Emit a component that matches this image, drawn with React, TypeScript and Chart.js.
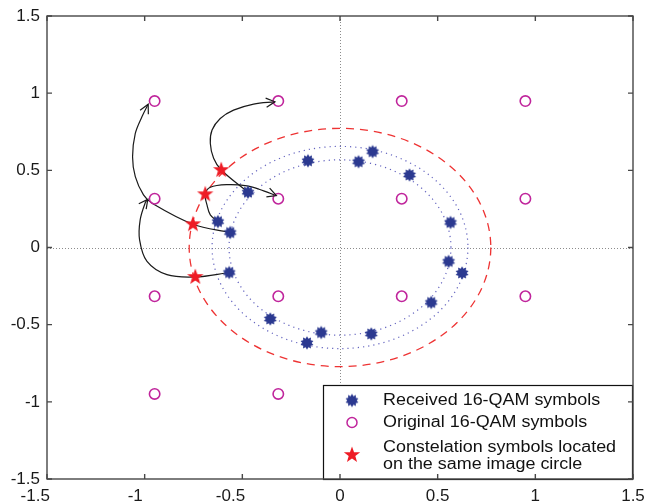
import React, { useEffect, useRef } from "react";
import { Chart, registerables } from "chart.js";

Chart.register(...registerables);

const FONT = '"Liberation Sans", Arial, Helvetica, sans-serif';

// Axis ticks
const xTickLabels = ["-1.5", "-1", "-0.5", "0", "0.5", "1", "1.5"];
const yTickLabels = ["-1.5", "-1", "-0.5", "0", "0.5", "1", "1.5"];

// Received 16-QAM symbols (after phase/amplitude distortion)
const receivedX = [-0.164, 0.095, 0.167, 0.356, 0.566, 0.556, 0.625, 0.467, 0.160, -0.096, -0.169, -0.357, -0.567, -0.562, -0.625, -0.471];
const receivedY = [0.562, 0.556, 0.621, 0.470, 0.162, -0.090, -0.165, -0.356, -0.560, -0.551, -0.618, -0.463, -0.162, 0.097, 0.168, 0.358];

// Original 16-QAM constellation
const originalX = [-0.949, -0.316, 0.316, 0.949, -0.949, -0.316, 0.316, 0.949, -0.949, -0.316, 0.316, 0.949, -0.949, -0.316, 0.316, 0.949];
const originalY = [0.949, 0.949, 0.949, 0.949, 0.316, 0.316, 0.316, 0.316, -0.316, -0.316, -0.316, -0.316, -0.949, -0.949, -0.949, -0.949];

// Constellation symbols located on the same image circle
const imageX = [-0.608, -0.690, -0.753, -0.741];
const imageY = [0.502, 0.345, 0.151, -0.191];

// Radii of the circles around the origin
const innerRingRadius = 0.568;
const outerRingRadius = 0.655;
const imageCircleRadius = 0.772;

// Mapping paths (received symbol -> image circle -> original symbol)
const pathLowX = [-0.567, -0.741, -0.886, -0.988, -1.026, -1.023, -0.997, -0.984];
const pathLowY = [-0.162, -0.191, -0.176, -0.090, 0.050, 0.179, 0.290, 0.312];
const pathUpX = [-0.562, -0.753, -0.960, -1.006, -1.048, -1.062, -1.048, -1.014, -0.982];
const pathUpY = [0.097, 0.151, 0.285, 0.341, 0.459, 0.588, 0.739, 0.847, 0.928];
const pathMidX = [-0.625, -0.664, -0.681, -0.690, -0.664, -0.579, -0.476, -0.391, -0.326];
const pathMidY = [0.168, 0.211, 0.276, 0.345, 0.390, 0.407, 0.399, 0.367, 0.336];
const pathTopX = [-0.471, -0.608, -0.647, -0.664, -0.655, -0.613, -0.545, -0.442, -0.333];
const pathTopY = [0.358, 0.502, 0.578, 0.675, 0.761, 0.836, 0.890, 0.929, 0.944];

const legendLabels = [
  ["Received 16-QAM symbols"],
  ["Original 16-QAM symbols"],
  ["Constelation symbols located", "on the same image circle"],
];

const BLUE = "#2b3990";
const MAGENTA = "#c0259c";
const RED = "#ee1c25";

const zip = (xs: number[], ys: number[]) => xs.map((x, i) => ({ x, y: ys[i] }));

function makeBurst(color: string, outer: number, inner: number, spikes: number) {
  const size = Math.ceil(outer * 2 + 2);
  const c = document.createElement("canvas");
  c.width = size;
  c.height = size;
  const g = c.getContext("2d")!;
  g.translate(size / 2, size / 2);
  g.beginPath();
  for (let i = 0; i < spikes * 2; i++) {
    const r = i % 2 ? inner : outer;
    const a = -Math.PI / 2 + (i * Math.PI) / spikes;
    const px = r * Math.cos(a);
    const py = r * Math.sin(a);
    if (i === 0) g.moveTo(px, py);
    else g.lineTo(px, py);
  }
  g.closePath();
  g.fillStyle = color;
  g.fill();
  return c;
}

export default function App() {
  const canvasRef = useRef<HTMLCanvasElement | null>(null);

  useEffect(() => {
    const canvas = canvasRef.current;
    if (!canvas) return;

    const blueBurst = makeBurst(BLUE, 6.8, 4.6, 10);
    const redStar = makeBurst(RED, 8.6, 3.5, 5);

    const rings = {
      id: "rings",
      beforeDatasetsDraw(chart: any) {
        const { ctx, chartArea: a, scales } = chart;
        const xs = scales.x;
        const ys = scales.y;
        const cx = xs.getPixelForValue(0);
        const cy = ys.getPixelForValue(0);
        ctx.save();
        // zero lines
        ctx.strokeStyle = "#8c8c8c";
        ctx.lineWidth = 1;
        ctx.setLineDash([1, 2]);
        ctx.beginPath();
        ctx.moveTo(Math.round(cx) + 0.5, a.top);
        ctx.lineTo(Math.round(cx) + 0.5, a.bottom);
        ctx.moveTo(a.left, Math.round(cy) + 0.5);
        ctx.lineTo(a.right, Math.round(cy) + 0.5);
        ctx.stroke();
        // dotted rings
        ctx.strokeStyle = "rgba(60,60,175,0.8)";
        ctx.lineWidth = 1.2;
        ctx.setLineDash([1.2, 4]);
        [innerRingRadius, outerRingRadius].forEach((r) => {
          const rx = xs.getPixelForValue(r) - cx;
          const ry = cy - ys.getPixelForValue(r);
          ctx.beginPath();
          ctx.ellipse(cx, cy, rx, ry, 0, 0, Math.PI * 2);
          ctx.stroke();
        });
        // dashed image circle
        ctx.strokeStyle = "#ee3333";
        ctx.lineWidth = 1.3;
        ctx.setLineDash([8, 6]);
        const rx = xs.getPixelForValue(imageCircleRadius) - cx;
        const ry = cy - ys.getPixelForValue(imageCircleRadius);
        ctx.beginPath();
        ctx.ellipse(cx, cy, rx, ry, 0, 0, Math.PI * 2);
        ctx.stroke();
        ctx.restore();
      },
    };

    const arrowHeads = {
      id: "arrowHeads",
      afterDatasetsDraw(chart: any) {
        const { ctx } = chart;
        ctx.save();
        ctx.strokeStyle = "#1a1a1a";
        ctx.lineWidth = 1.2;
        ctx.setLineDash([]);
        chart.data.datasets.forEach((ds: any, i: number) => {
          if (!ds.isPath) return;
          const pts = chart.getDatasetMeta(i).data;
          const n = pts.length;
          const p = pts[n - 1];
          const q = pts[n - 2];
          const ang = Math.atan2(p.y - q.y, p.x - q.x);
          const len = 10;
          const spread = 0.48;
          ctx.beginPath();
          ctx.moveTo(p.x - len * Math.cos(ang - spread), p.y - len * Math.sin(ang - spread));
          ctx.lineTo(p.x, p.y);
          ctx.lineTo(p.x - len * Math.cos(ang + spread), p.y - len * Math.sin(ang + spread));
          ctx.stroke();
        });
        ctx.restore();
      },
    };

    const frame = {
      id: "frame",
      afterDraw(chart: any) {
        const { ctx, chartArea: a, scales } = chart;
        ctx.save();
        // legend box
        const lx = 323;
        const ly = 385;
        const lw = a.right - 1 - lx;
        const lh = a.bottom - ly;
        ctx.fillStyle = "#ffffff";
        ctx.fillRect(lx, ly, lw, lh);
        ctx.strokeStyle = "#111";
        ctx.lineWidth = 1.2;
        ctx.strokeRect(lx + 0.5, ly + 0.5, lw, lh);
        const mx = 352;
        const rows = [400.5, 422.5, 455];
        ctx.drawImage(blueBurst, mx - blueBurst.width / 2, rows[0] - blueBurst.height / 2);
        ctx.strokeStyle = MAGENTA;
        ctx.lineWidth = 1.5;
        ctx.beginPath();
        ctx.arc(mx, rows[1], 5, 0, Math.PI * 2);
        ctx.stroke();
        ctx.drawImage(redStar, mx - redStar.width / 2, rows[2] - redStar.height / 2);
        ctx.fillStyle = "#111";
        ctx.font = `16px ${FONT}`;
        ctx.textBaseline = "middle";
        ctx.textAlign = "left";
        const textRows = [[400.5], [422.5], [448, 465]];
        legendLabels.forEach((lines, i) => {
          lines.forEach((t, j) => {
            ctx.save();
            ctx.translate(383, textRows[i][j]);
            ctx.scale(1.12, 1);
            ctx.fillText(t, 0, 0);
            ctx.restore();
          });
        });
        // axes box with inward ticks
        ctx.strokeStyle = "#474747";
        ctx.lineWidth = 1.4;
        ctx.strokeRect(a.left, a.top, a.right - a.left, a.bottom - a.top);
        ctx.beginPath();
        scales.x.ticks.forEach((t: any) => {
          const px = scales.x.getPixelForValue(t.value);
          ctx.moveTo(px, a.bottom);
          ctx.lineTo(px, a.bottom - 5);
          ctx.moveTo(px, a.top);
          ctx.lineTo(px, a.top + 5);
        });
        scales.y.ticks.forEach((t: any) => {
          const py = scales.y.getPixelForValue(t.value);
          ctx.moveTo(a.left, py);
          ctx.lineTo(a.left + 5, py);
          ctx.moveTo(a.right, py);
          ctx.lineTo(a.right - 5, py);
        });
        ctx.stroke();
        ctx.restore();
      },
    };

    const pathStyle = {
      type: "line" as const,
      showLine: true,
      isPath: true,
      borderColor: "#1a1a1a",
      borderWidth: 1.2,
      pointRadius: 0,
      pointHoverRadius: 0,
      tension: 0.35,
      fill: false,
      order: 4,
    };

    const chart = new Chart(canvas, {
      type: "scatter",
      data: {
        datasets: [
          {
            label: "Constelation symbols located on the same image circle",
            data: zip(imageX, imageY),
            pointStyle: redStar as any,
            pointRadius: 8,
            order: 1,
          },
          {
            label: "Received 16-QAM symbols",
            data: zip(receivedX, receivedY),
            pointStyle: blueBurst as any,
            pointRadius: 7,
            order: 2,
          },
          {
            label: "Original 16-QAM symbols",
            data: zip(originalX, originalY),
            pointStyle: "circle",
            pointRadius: 5.2,
            borderColor: MAGENTA,
            borderWidth: 1.6,
            backgroundColor: "rgba(0,0,0,0)",
            order: 3,
          },
          { ...pathStyle, label: "low", data: zip(pathLowX, pathLowY) } as any,
          { ...pathStyle, label: "up", data: zip(pathUpX, pathUpY) } as any,
          { ...pathStyle, label: "mid", data: zip(pathMidX, pathMidY) } as any,
          { ...pathStyle, label: "top", data: zip(pathTopX, pathTopY) } as any,
        ],
      },
      options: {
        responsive: false,
        animation: false,
        devicePixelRatio: 1,
        layout: { padding: { top: 16, right: 12, left: 0, bottom: 0 } },
        plugins: { legend: { display: false }, tooltip: { enabled: false } },
        events: [],
        scales: {
          x: {
            type: "linear",
            min: -1.5,
            max: 1.5,
            afterFit: (s: any) => {
              s.height = 25;
              s.paddingLeft = 0;
              s.paddingRight = 0;
            },
            grid: { display: false, drawTicks: false },
            border: { display: false },
            ticks: {
              stepSize: 0.5,
              padding: 7,
              color: "#1a1a1a",
              font: { size: 17, family: FONT },
              maxRotation: 0,
              autoSkip: false,
              callback: (_v: any, i: number) => {
                const t = xTickLabels[i];
                if (t.startsWith("-")) return t + (t.length > 3 ? "\u2007\u2007 " : "\u2007\u2007");
                return t;
              },
            },
          },
          y: {
            type: "linear",
            min: -1.5,
            max: 1.5,
            afterFit: (s: any) => {
              s.width = 47;
              s.paddingTop = 0;
              s.paddingBottom = 0;
            },
            grid: { display: false, drawTicks: false },
            border: { display: false },
            ticks: {
              stepSize: 0.5,
              padding: 7,
              color: "#1a1a1a",
              font: { size: 17, family: FONT },
              autoSkip: false,
              callback: (_v: any, i: number) => yTickLabels[i],
            },
          },
        },
      },
      plugins: [rings, arrowHeads, frame],
    });

    return () => chart.destroy();
  }, []);

  return (
    <div style={{ position: "fixed", left: 0, top: 0, width: 645, height: 504, background: "#fff" }}>
      <canvas ref={canvasRef} width={645} height={504} style={{ display: "block" }} />
    </div>
  );
}
